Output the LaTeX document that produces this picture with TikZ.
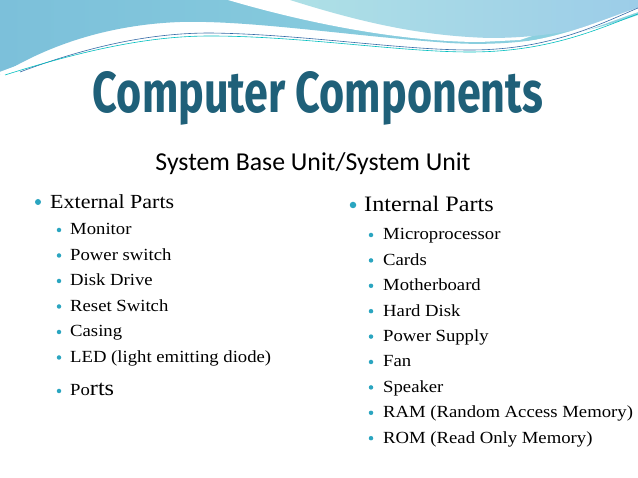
\documentclass[tikz,border=0pt]{standalone}
\usepackage{fontspec}
\setmainfont[FakeStretch=1.1]{Liberation Serif}
\newfontfamily\titlefont{Fira Sans}
\newfontfamily\subfont{Carlito}
\usetikzlibrary{calc}
\definecolor{teal1}{HTML}{1F6079}
\definecolor{bul}{HTML}{2AA5C0}
\definecolor{wl}{HTML}{7CC0DA}
\definecolor{wr}{HTML}{8ED3E0}
\definecolor{ll}{HTML}{AEE0E6}
\definecolor{lr}{HTML}{9CCDE8}
\begin{document}
\begin{tikzpicture}[x=1pt,y=-1pt,
  item/.style={anchor=base west,inner sep=0pt,font=\fontsize{17}{19}\selectfont},
  head/.style={anchor=base west,inner sep=0pt},
  dot/.style={circle,fill=bul,inner sep=0pt,minimum size=#1}]
\useasboundingbox (0,0) rectangle (638,478);
\fill[white] (0,0) rectangle (638,478);
% waves
\shade[left color=wl,right color=wr] (0,0) -- (638,0) -- (638,15) .. controls (560,42) and (500,46) .. (450,43) .. controls (350,36) and (250,20) .. (180,22) .. controls (100,25) and (40,50) .. (0,75) -- cycle;
\fill[white] (228,0) .. controls (330,30) and (420,42) .. (480,42) -- (520,40) -- (638,0) -- cycle;
\shade[left color=ll,right color=lr] (290,0) .. controls (360,22) and (420,36) .. (490,38) .. controls (560,38) and (615,22) .. (638,10) -- (638,0) -- cycle;
\draw[white,line width=4pt] (0,74) .. controls (100,36) and (160,30) .. (210,30) .. controls (300,31) and (400,48) .. (470,48) .. controls (550,48) and (600,22) .. (638,10);
\draw[cyan!50!blue!80!black,line width=0.6pt] (20,72) .. controls (100,42) and (160,33) .. (210,33) .. controls (300,34) and (400,50) .. (470,50) .. controls (550,50) and (600,24) .. (638,8);
\draw[teal!50!cyan,line width=0.6pt] (5,75) .. controls (100,45) and (160,36) .. (210,36) .. controls (300,36) and (400,52) .. (470,52) .. controls (550,52) and (600,28) .. (638,14);
% title
\node[anchor=base,inner sep=0pt,text=teal1] (title) at (318,113)
  {\resizebox{450pt}{41pt}{\titlefont\bfseries Computer Components}};
\node[anchor=base,inner sep=0pt] (sub) at (313,171)
  {\resizebox{315pt}{!}{\subfont\fontsize{24}{26}\selectfont System Base Unit/System Unit}};
% left column
\node[dot=6pt] (b0) at (38,202) {};
\node[head,font=\fontsize{20}{22}\selectfont] (ext) at (50,209) {External Parts};
\foreach \t [count=\i from 0] in {Monitor,Power switch,Disk Drive,Reset Switch,Casing,LED (light emitting diode)}{
  \node[dot=4.5pt] (lb\i) at (59,{230+25.5*\i}) {};
  \node[item] (l\i) at (70,{235+25.5*\i}) {\t};
}
\node[dot=4.5pt] (lb6) at (59,391) {};
\node[item] (l6) at (70,396) {Po{\fontsize{22}{24}\selectfont rts}};
% right column
\node[dot=6.5pt] (b1) at (353,205) {};
\node[head,font=\fontsize{22}{24}\selectfont] (int) at (364,212) {Internal Parts};
\foreach \t [count=\i from 0] in {Microprocessor,Cards,Motherboard,Hard Disk,Power Supply,Fan,Speaker,RAM (Random Access Memory),ROM (Read Only Memory)}{
  \node[dot=4.5pt] (rb\i) at (371,{235+25.4*\i}) {};
  \node[item] (r\i) at (383,{240+25.4*\i}) {\t};
}
\end{tikzpicture}
\end{document}
